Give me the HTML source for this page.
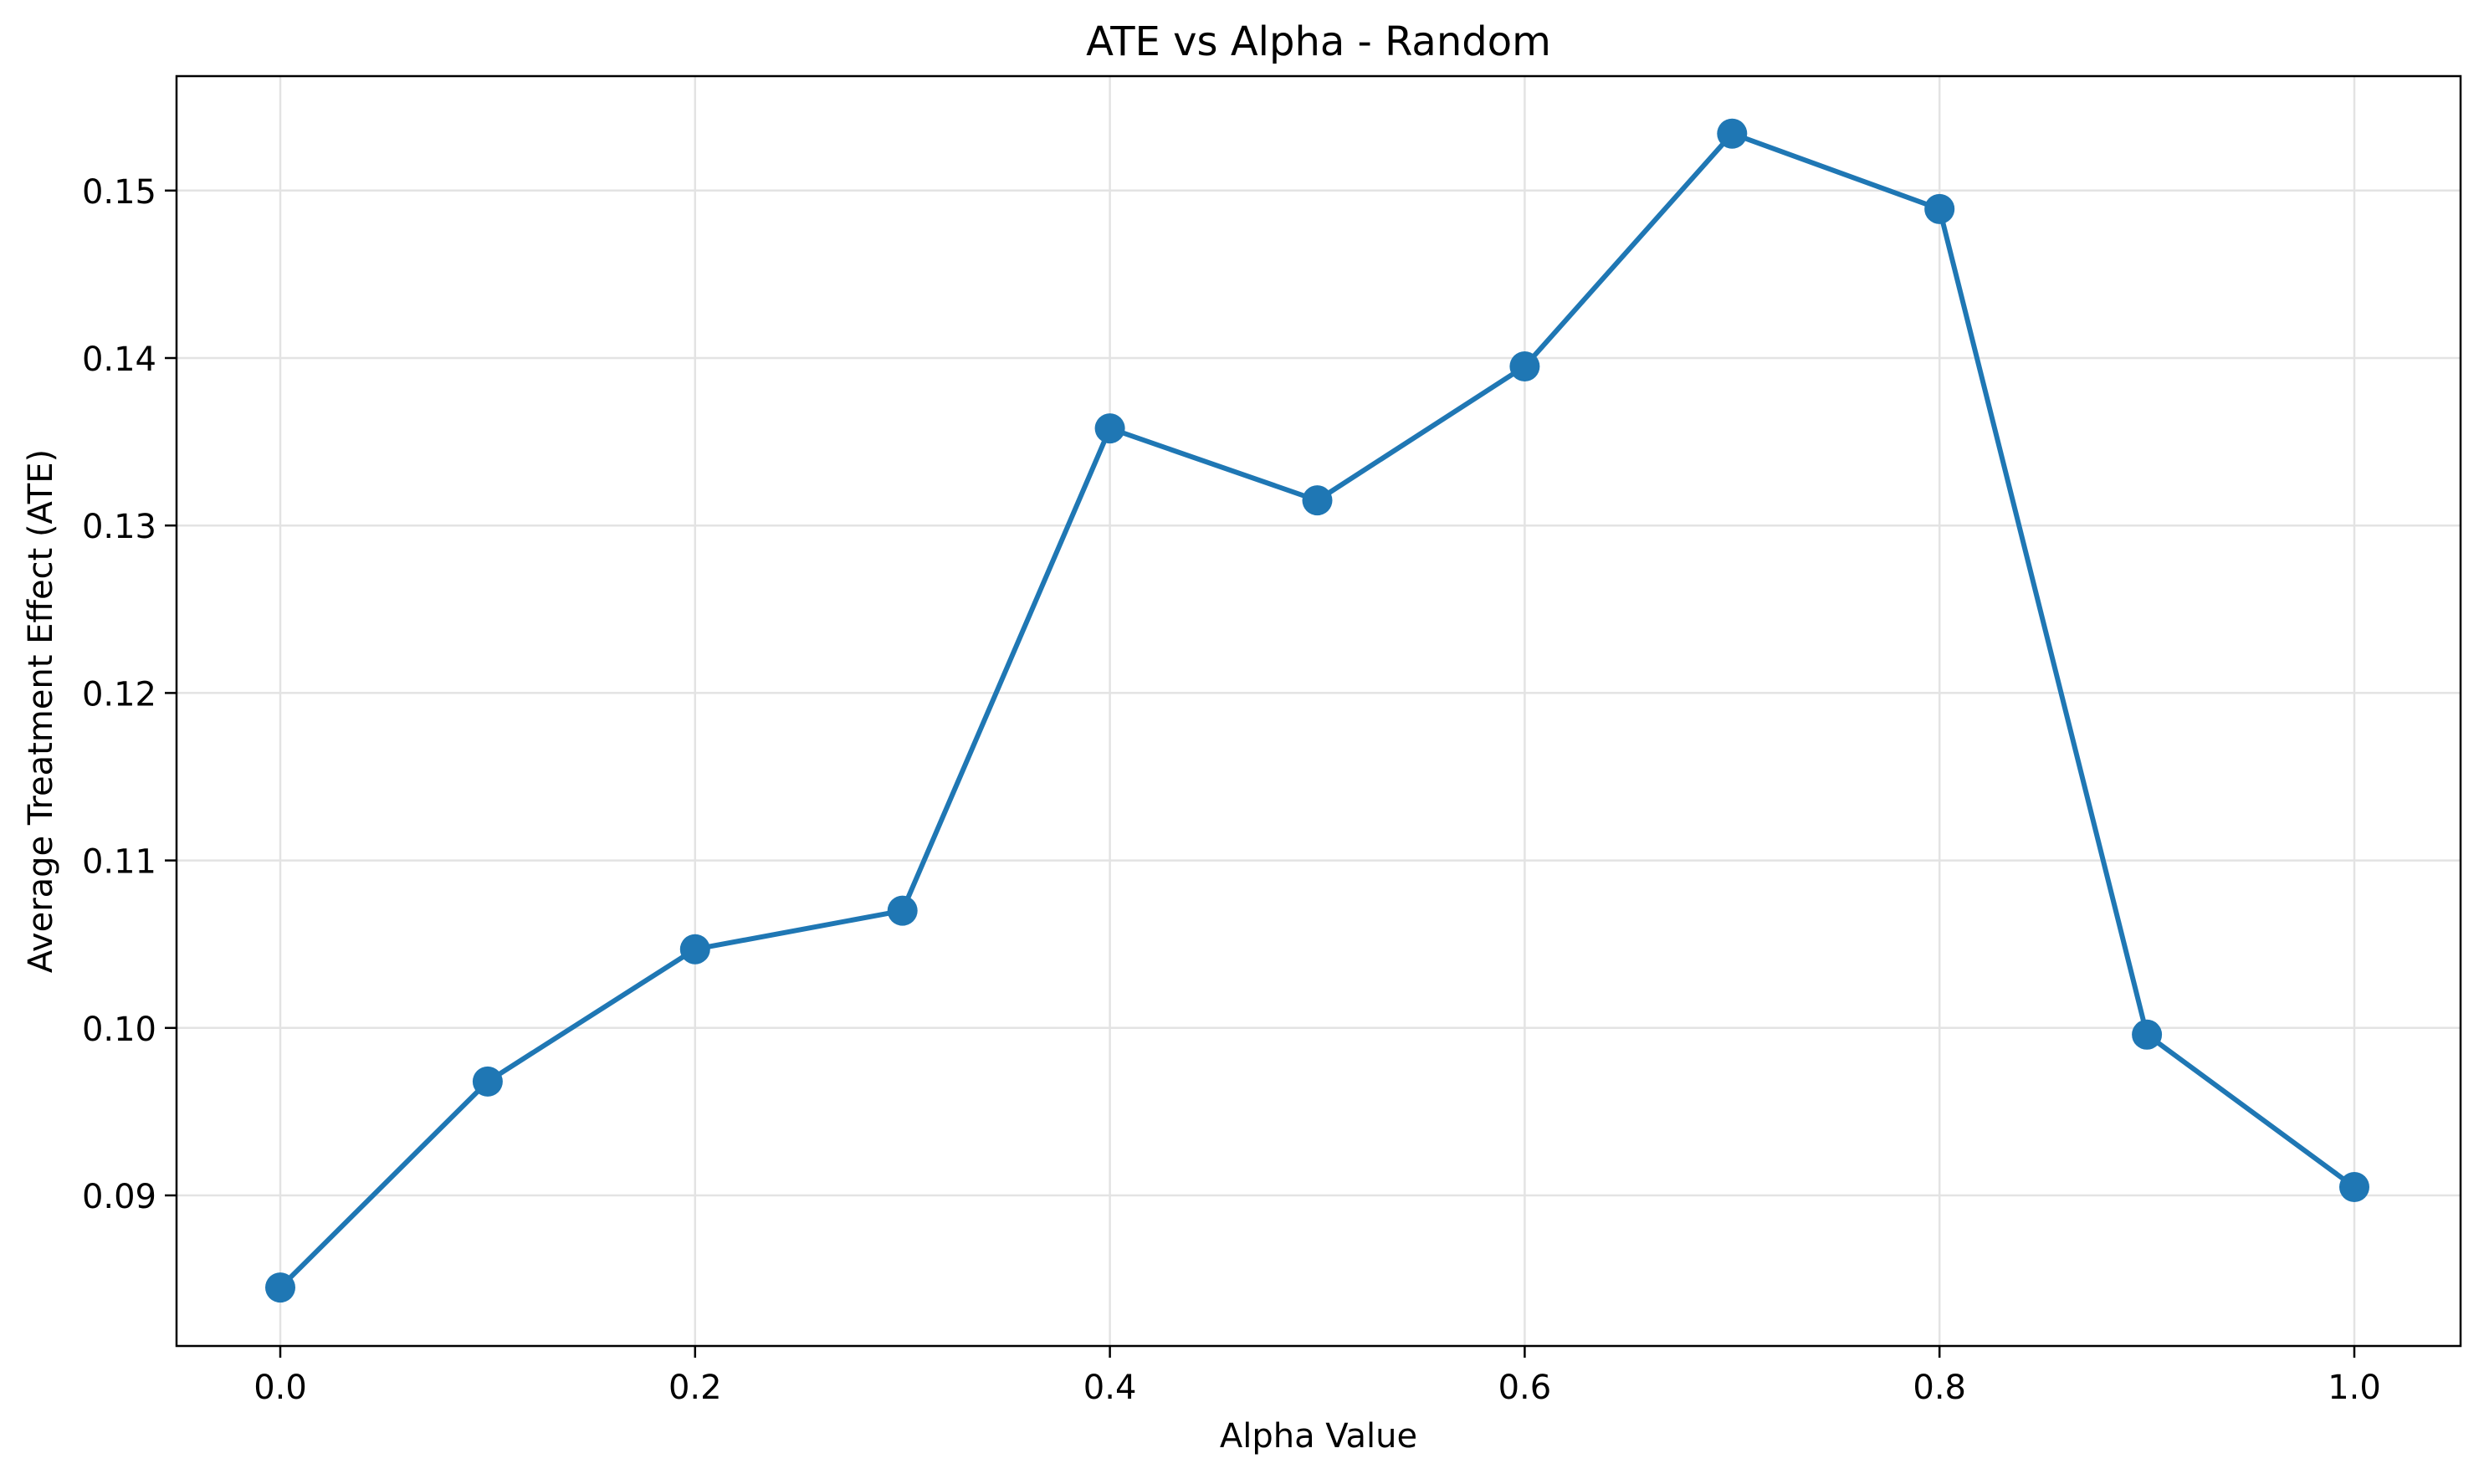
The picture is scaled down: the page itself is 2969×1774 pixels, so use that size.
<!DOCTYPE html>
<html><head><meta charset="utf-8"><style>
body{margin:0;background:#fff}
svg text{font-family:"DejaVu Sans","Liberation Sans",sans-serif;fill:#000}
</style></head><body>
<svg id="chart" width="2969" height="1769" xmlns="http://www.w3.org/2000/svg">
<rect width="2969" height="1769" fill="#fff"/>
<g id="grid"></g>
<g id="series"></g>
<rect x="211" y="91" width="2730" height="1518" fill="none" stroke="#000" stroke-width="2.5"/>
<g id="ticks"></g>
<text x="1576" y="66" font-size="48" text-anchor="middle">ATE vs Alpha - Random</text>
<text x="1576" y="1730" font-size="40" text-anchor="middle">Alpha Value</text>
<text transform="translate(62,850) rotate(-90)" font-size="40" text-anchor="middle">Average Treatment Effect (ATE)</text>
</svg>
<script>
const alphas=[0.0,0.1,0.2,0.3,0.4,0.5,0.6,0.7,0.8,0.9,1.0];
const ateValues=[0.0845,0.0968,0.1047,0.1070,0.1358,0.1315,0.1395,0.1534,0.1489,0.0996,0.0905];
const xTicks=[0.0,0.2,0.4,0.6,0.8,1.0];
const xTickLabels=["0.0","0.2","0.4","0.6","0.8","1.0"];
const yTicks=[0.09,0.10,0.11,0.12,0.13,0.14,0.15];
const yTickLabels=["0.09","0.10","0.11","0.12","0.13","0.14","0.15"];
const NS="http://www.w3.org/2000/svg";
const L=211,R=2941,T=91,B=1609;
function xs(v){return 335+(2814-335)*v;}
function ys(v){return 1429-(v-0.09)*20020;}
function mk(tag,attrs,parent){const e=document.createElementNS(NS,tag);for(const k in attrs)e.setAttribute(k,attrs[k]);parent.appendChild(e);return e;}
const grid=document.getElementById('grid'),ticks=document.getElementById('ticks'),series=document.getElementById('series');
xTicks.forEach((v,i)=>{
 const g=mk('line',{x1:xs(v),x2:xs(v),y1:T,y2:B,stroke:'#e3e3e3','stroke-width':2.5},grid);
 
 
 const t=mk('line',{x1:xs(v),x2:xs(v),y1:B,y2:B+14,stroke:'#000','stroke-width':2.5},ticks);
 
 
 const l=mk('text',{x:xs(v),y:B+63,'font-size':40,'text-anchor':'middle'},ticks);
 l.textContent=xTickLabels[i];
 
 
});
yTicks.forEach((v,i)=>{
 const g=mk('line',{x1:L,x2:R,y1:ys(v),y2:ys(v),stroke:'#e3e3e3','stroke-width':2.5},grid);
 
 
 const t=mk('line',{x1:L-14,x2:L,y1:ys(v),y2:ys(v),stroke:'#000','stroke-width':2.5},ticks);
 
 
 const l=mk('text',{x:L-24,y:ys(v)+15,'font-size':40,'text-anchor':'end'},ticks);
 l.textContent=yTickLabels[i];
 
 
});
const pts=alphas.map((a,i)=>xs(a)+','+ys(ateValues[i])).join(' ');
const line=mk('polyline',{points:pts,fill:'none',stroke:'#1f77b4','stroke-width':6,'stroke-linejoin':'round'},series);


alphas.forEach((a,i)=>{
 const c=mk('circle',{cx:xs(a),cy:ys(ateValues[i]),r:18,fill:'#1f77b4'},series);
 
 
});
</script>
</body></html>
